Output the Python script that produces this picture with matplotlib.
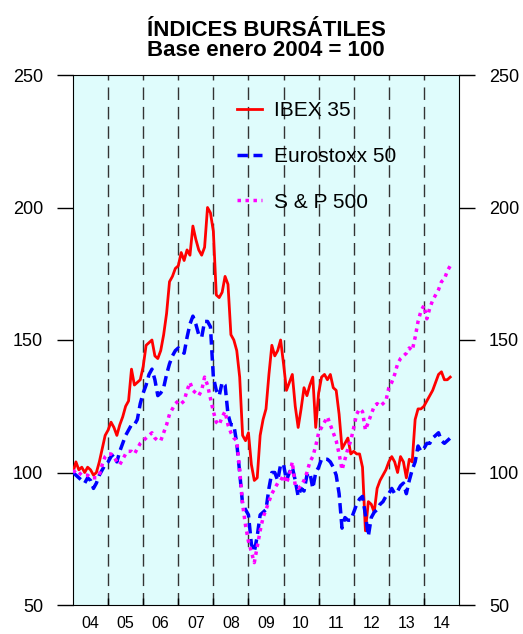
import numpy as np
import matplotlib
matplotlib.use("Agg")
import matplotlib.pyplot as plt

plt.rcParams['font.family'] = ['Liberation Sans', 'DejaVu Sans']

# monthly data, Jan 2004 .. Oct 2014, base Jan 2004 = 100
ibex = [100, 104, 101, 102, 100, 102, 101, 99, 100, 104, 109, 114,
        116, 119, 117, 114, 118, 121, 125, 127, 139, 133, 134, 135,
        140, 148, 149, 150, 144, 143, 146, 152, 160, 172, 174, 177,
        178, 183, 180, 184, 182, 193, 188, 184, 182, 185, 200, 198,
        191, 167, 166, 168, 174, 171, 152, 150, 146, 136, 114, 112,
        115, 103, 97, 98, 114, 120, 124, 137, 148, 144, 146, 150,
        141, 131, 134, 137, 125, 117, 124, 132, 129, 133, 136, 117,
        130, 136, 137, 135, 137, 132, 131, 122, 109, 111, 113, 107,
        108, 107, 107, 102, 78, 89, 88, 85, 94, 97, 99, 101,
        104, 106, 104, 100, 106, 104, 98, 105, 104, 120, 124, 124,
        125, 127, 129, 131, 134, 137, 138, 135, 135, 136]

eurostoxx = [100, 99, 98, 97, 96, 98, 97, 94, 96, 99, 101, 103,
             104, 106, 107, 104, 108, 111, 114, 116, 118, 118, 120, 126,
             130, 133, 137, 139, 135, 129, 130, 132, 137, 141, 144, 146,
             147, 146, 145, 151, 156, 159, 156, 152, 151, 157, 157, 155,
             136, 131, 129, 134, 133, 122, 118, 118, 111, 100, 88, 86,
             84, 73, 70, 76, 84, 85, 86, 94, 100, 100, 97, 103,
             103, 97, 100, 102, 97, 91, 94, 93, 99, 100, 94, 100,
             102, 105, 105, 105, 104, 102, 99, 92, 79, 83, 82, 82,
             85, 88, 90, 91, 84, 76, 83, 85, 86, 88, 89, 91,
             92, 94, 92, 93, 95, 96, 92, 97, 101, 104, 110, 108,
             109, 111, 111, 113, 114, 115, 112, 111, 112, 113]

sp500 = [100, 101, 100, 99, 99, 99, 98, 98, 98, 99, 103, 106,
         107, 107, 106, 104, 103, 105, 107, 108, 108, 107, 109, 111,
         112, 113, 114, 115, 113, 112, 112, 115, 118, 122, 124, 126,
         127, 126, 127, 131, 134, 131, 130, 129, 131, 136, 133, 128,
         123, 119, 118, 121, 123, 118, 115, 113, 112, 101, 88, 80,
         74, 70, 66, 72, 78, 83, 86, 89, 92, 94, 96, 97,
         99, 96, 99, 104, 95, 94, 95, 97, 100, 104, 106, 110,
         115, 117, 119, 121, 118, 115, 112, 107, 101, 105, 109, 112,
         117, 122, 124, 123, 116, 119, 122, 125, 126, 125, 126, 127,
         132, 134, 137, 141, 143, 144, 145, 147, 146, 151, 157, 161,
         163, 158, 162, 165, 167, 169, 172, 173, 176, 178]

years = ['04', '05', '06', '07', '08', '09', '10', '11', '12', '13', '14']

months = np.arange(len(ibex))

fig = plt.figure(figsize=(5.23, 6.34), dpi=100)
ax = fig.add_axes([73/523, 29/634, 386/523, 530/634])
ax.set_facecolor('#dffcfc')

for k in range(1, len(years)):
    ax.axvline(12*k, color='#333333', lw=1, ls=(0, (9, 5)), zorder=1)

ax.plot(months, ibex, color='#ff0000', lw=2, label='IBEX 35', zorder=3)
ax.plot(months, eurostoxx, color='#0000ff', lw=2.5, ls=(0, (3, 1.6)), label='Eurostoxx 50', zorder=3)
ax.plot(months, sp500, color='#ff00ff', lw=2.5, ls=(0, (1, 1.3)), label='S & P 500', zorder=3)

ax.set_xlim(0, 12*len(years))
ax.set_ylim(50, 250)
ax.set_yticks([50, 100, 150, 200, 250])
ax.tick_params(axis='y', direction='out', length=11.5, width=1, labelsize=13,
               left=True, right=True, labelleft=True, labelright=True, pad=10)
ax.set_xticks([12*k + 6 for k in range(len(years))])
ax.set_xticklabels(years)
ax.tick_params(axis='x', which='major', length=0, labelsize=11.5, pad=8)
ax.set_xticks([12*k for k in range(1, len(years))], minor=True)
ax.tick_params(axis='x', which='minor', direction='in', length=5, width=1)

ax.set_title('ÍNDICES BURSÁTILES\nBase enero 2004 = 100', fontsize=16,
             fontweight='bold', pad=14, linespacing=0.92)

ax.legend(loc='upper left', bbox_to_anchor=(0.403, 0.966), frameon=False,
          fontsize=15, handlelength=1.2, labelspacing=1.28, handletextpad=0.57,
          borderaxespad=0)

fig.savefig('out.png', dpi=100)
